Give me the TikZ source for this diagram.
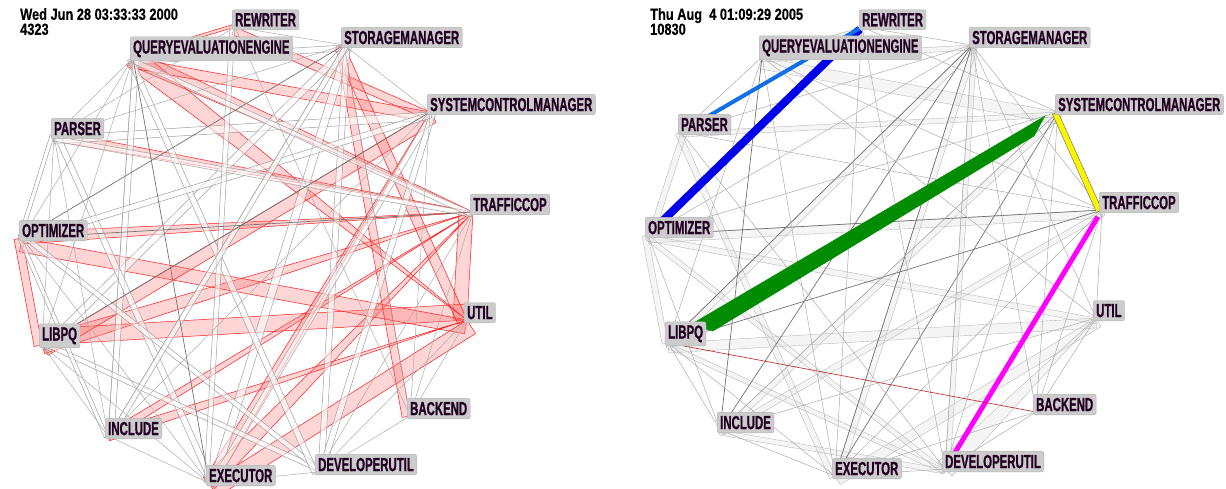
\documentclass[tikz,border=0pt]{standalone}
\usepackage{fontspec}
\setmainfont{Liberation Sans}
\newfontfamily\lblfont[FakeStretch=0.6,FakeBold=0.8]{Liberation Sans}
\newfontfamily\datefont[FakeStretch=0.8,FakeBold=0.4]{Liberation Sans}
\usetikzlibrary{calc}
\definecolor{lbltext}{RGB}{35,0,35}
\definecolor{deepblue}{RGB}{0,0,235}
\definecolor{skyblue}{RGB}{20,110,230}
\definecolor{leafgreen}{RGB}{0,140,0}
\definecolor{lemon}{RGB}{250,245,0}
\definecolor{pinkline}{RGB}{255,0,255}
\definecolor{darkred}{RGB}{190,30,30}
\tikzstyle{lbl}=[draw=gray!60,fill=gray!40,rounded corners=2pt,inner xsep=3pt,inner ysep=3.5pt,anchor=south west,xshift=-3pt,yshift=-3pt,text=lbltext,font={\lblfont\bfseries\fontsize{19pt}{19pt}\selectfont}]
\tikzstyle{datetxt}=[anchor=north west,inner sep=0pt,align=left,font={\datefont\bfseries\fontsize{16pt}{15pt}\selectfont}]
\tikzstyle{redband}=[draw=red!90,fill=red!55,fill opacity=0.3,line width=0.5pt]
\tikzstyle{wband}=[draw=gray!75,fill=white,fill opacity=0.55,line width=0.5pt]
\tikzstyle{gband}=[draw=gray!55,fill=gray!30,fill opacity=0.25,line width=0.4pt]
\tikzstyle{gline}=[draw=gray!65,line width=0.5pt]
\tikzstyle{dline}=[draw=black!55,line width=0.7pt]
\newcommand{\band}[4]{\filldraw[#1] (#2) -- (#3) -- ($(#3)!#4!90:(#2)$) -- ($(#2)!#4!-90:(#3)$) -- cycle;}
\newcommand{\fan}[4]{\filldraw[#1] (#2) -- ($(#3)!#4!90:(#2)$) -- ($(#3)!#4!-90:(#2)$) -- cycle;}

\begin{document}
\begin{tikzpicture}[x=1pt,y=-1pt]
\useasboundingbox (0,0) rectangle (1226,489);
\coordinate (arw) at (235,27);
\coordinate (aqe) at (133,58);
\coordinate (asm) at (344,45);
\coordinate (ascm) at (430,112);
\coordinate (atc) at (473,212);
\coordinate (aut) at (467,320);
\coordinate (abe) at (410,416);
\coordinate (adu) at (318,472);
\coordinate (aex) at (209,483);
\coordinate (ain) at (108,436);
\coordinate (alp) at (42,345);
\coordinate (aop) at (22,238);
\coordinate (apa) at (54,136);
\coordinate (brw) at (862,27);
\coordinate (bqe) at (762,57);
\coordinate (bsm) at (972,45);
\coordinate (bscm) at (1058,112);
\coordinate (btc) at (1102,210);
\coordinate (but) at (1096,318);
\coordinate (bbe) at (1036,412);
\coordinate (bdu) at (945,469);
\coordinate (bex) at (835,476);
\coordinate (bin) at (720,430);
\coordinate (blp) at (668,343);
\coordinate (bop) at (648,235);
\coordinate (bpa) at (681,132);

\fan{redband}{atc}{alp}{9pt}
\fan{redband}{atc}{aex}{8pt}
\fan{redband}{atc}{ain}{4pt}
\fan{redband}{atc}{aop}{6pt}
\fan{redband}{atc}{aqe}{8pt}
\fan{redband}{atc}{apa}{5pt}
\band{redband}{atc}{aut}{14pt}
\band{redband}{aut}{alp}{16pt}
\band{redband}{aop}{aut}{14pt}
\band{redband}{aex}{aut}{16pt}
\fan{redband}{aut}{ain}{5pt}
\fan{redband}{aut}{aqe}{10pt}
\band{redband}{alp}{ascm}{12pt}
\band{redband}{aqe}{ascm}{10pt}
\fan{redband}{ascm}{aex}{6pt}
\band{redband}{arw}{ascm}{8pt}
\band{redband}{asm}{aut}{10pt}
\band{redband}{asm}{abe}{8pt}
\band{redband}{aop}{alp}{8pt}
\band{redband}{arw}{aqe}{3pt}

\band{wband}{apa}{ascm}{8pt}
\band{wband}{aqe}{asm}{6pt}
\band{wband}{aex}{asm}{8pt}
\band{wband}{adu}{asm}{6pt}
\band{wband}{alp}{asm}{7pt}
\band{wband}{aex}{ascm}{6pt}
\band{wband}{adu}{ascm}{6pt}
\band{wband}{ain}{aqe}{6pt}
\band{wband}{aex}{apa}{6pt}
\band{wband}{adu}{alp}{5pt}
\band{wband}{adu}{aop}{5pt}
\band{wband}{aqe}{adu}{6pt}
\band{wband}{aop}{ascm}{6pt}
\band{wband}{apa}{atc}{5pt}
\band{wband}{arw}{aex}{5pt}
\band{wband}{aop}{ain}{4pt}
\band{wband}{apa}{aop}{4pt}
\band{wband}{ain}{asm}{5pt}
\band{wband}{aqe}{atc}{5pt}

\draw[dline] (aop) -- (atc);
\draw[dline] (ascm) -- (alp);
\draw[dline] (asm) -- (aop);
\draw[dline] (aqe) -- (aex);
\draw[gline] (apa) -- (aqe);
\draw[gline] (apa) -- (alp);
\draw[gline] (apa) -- (ain);
\draw[gline] (aqe) -- (alp);
\draw[gline] (aqe) -- (aop);
\draw[gline] (aqe) -- (ain);
\draw[gline] (asm) -- (ain);
\draw[gline] (asm) -- (apa);
\draw[gline] (asm) -- (ascm);
\draw[gline] (ascm) -- (abe);
\draw[gline] (ascm) -- (ain);
\draw[gline] (atc) -- (adu);
\draw[gline] (atc) -- (abe);
\draw[gline] (aut) -- (abe);
\draw[gline] (aut) -- (adu);
\draw[gline] (abe) -- (adu);
\draw[gline] (aex) -- (adu);
\draw[gline] (ain) -- (aex);
\draw[gline] (alp) -- (aex);
\draw[gline] (alp) -- (ain);
\draw[gline] (aop) -- (aex);
\draw[gline] (arw) -- (asm);
\draw[gline] (arw) -- (abe);
\draw[gline] (arw) -- (apa);
\draw[gline] (asm) -- (abe);

\band{gband}{bqe}{bscm}{12pt}
\band{gband}{blp}{but}{10pt}
\band{gband}{bop}{btc}{8pt}
\band{gband}{bex}{but}{10pt}
\band{gband}{bin}{bscm}{6pt}
\band{gband}{bpa}{bscm}{5pt}
\band{gband}{blp}{bsm}{6pt}
\band{gband}{bex}{bsm}{6pt}
\band{gband}{bdu}{bsm}{5pt}
\band{gband}{bin}{btc}{6pt}
\fan{gband}{but}{bdu}{10pt}
\band{gband}{blp}{bdu}{5pt}
\band{gband}{bpa}{bex}{6pt}
\band{gband}{bop}{bdu}{5pt}
\band{gband}{bop}{but}{6pt}
\band{gband}{bop}{bpa}{6pt}
\band{gband}{bop}{blp}{6pt}
\band{gband}{bqe}{bsm}{5pt}
\band{gband}{bin}{bdu}{5pt}

\draw[dline] (bsm) -- (bin);
\draw[dline] (bsm) -- (blp);
\draw[dline] (btc) -- (blp);
\draw[dline] (btc) -- (bop);
\draw[dline] (bscm) -- (bex);
\draw[dline] (bsm) -- (bex);
\draw[dline] (bqe) -- (bin);
\draw[gline] (bsm) -- (bdu);
\draw[gline] (bsm) -- (bop);
\draw[gline] (bsm) -- (bpa);
\draw[gline] (bsm) -- (but);
\draw[gline] (bsm) -- (bbe);
\draw[gline] (bsm) -- (btc);
\draw[gline] (bsm) -- (brw);
\draw[gline] (bscm) -- (bin);
\draw[gline] (bscm) -- (bop);
\draw[gline] (bscm) -- (bdu);
\draw[gline] (bscm) -- (bbe);
\draw[gline] (btc) -- (bex);
\draw[gline] (btc) -- (bpa);
\draw[gline] (btc) -- (bqe);
\draw[gline] (btc) -- (but);
\draw[gline] (btc) -- (bbe);
\draw[gline] (but) -- (bbe);
\draw[gline] (but) -- (bin);
\draw[gline] (but) -- (bqe);
\draw[gline] (bbe) -- (bdu);
\draw[gline] (bbe) -- (bex);
\draw[gline] (bdu) -- (bex);
\draw[gline] (bdu) -- (bpa);
\draw[gline] (bex) -- (bin);
\draw[gline] (bex) -- (blp);
\draw[gline] (bex) -- (bqe);
\draw[gline] (bin) -- (blp);
\draw[gline] (bin) -- (bop);
\draw[gline] (bpa) -- (bqe);
\draw[gline] (bqe) -- (brw);
\draw[gline] (brw) -- (bdu);
\draw[gline] (brw) -- (bex);
\draw[gline] (brw) -- (bscm);
\draw[gline] (bqe) -- (blp);

\draw[deepblue,line width=8pt,shorten <=14pt,shorten >=3pt] (bop) -- (brw);
\draw[skyblue,line width=4pt,shorten <=12pt,shorten >=3pt] (bpa) -- (brw);
\filldraw[draw=leafgreen,fill=leafgreen] ($(blp)+(22,-18)$) -- ($(bscm)+(-13,4)$) -- ($(bscm)+(-24,24)$) -- ($(blp)+(45,-12)$) -- cycle;
\band{draw=black!60,fill=lemon,line width=0.4pt}{bscm}{btc}{6pt}
\draw[pinkline,line width=5pt,shorten <=8pt] (btc) -- (bdu);
\draw[darkred,line width=0.6pt] (blp) -- (bbe);

\node[datetxt] (adate) at (20,8) {Wed Jun 28 03:33:33 2000\\4323};
\node[datetxt] (bdate) at (650,8) {Thu Aug\ \ 4 01:09:29 2005\\10830};

\node[lbl] (arw-l) at (arw) {REWRITER};
\node[lbl] (aqe-l) at (aqe) {QUERYEVALUATIONENGINE};
\node[lbl] (asm-l) at (asm) {STORAGEMANAGER};
\node[lbl] (ascm-l) at (ascm) {SYSTEMCONTROLMANAGER};
\node[lbl] (atc-l) at (atc) {TRAFFICCOP};
\node[lbl] (aut-l) at (aut) {UTIL};
\node[lbl] (abe-l) at (abe) {BACKEND};
\node[lbl] (adu-l) at (adu) {DEVELOPERUTIL};
\node[lbl] (aex-l) at (aex) {EXECUTOR};
\node[lbl] (ain-l) at (ain) {INCLUDE};
\node[lbl] (alp-l) at (alp) {LIBPQ};
\node[lbl] (aop-l) at (aop) {OPTIMIZER};
\node[lbl] (apa-l) at (apa) {PARSER};
\node[lbl] (brw-l) at (brw) {REWRITER};
\node[lbl] (bqe-l) at (bqe) {QUERYEVALUATIONENGINE};
\node[lbl] (bsm-l) at (bsm) {STORAGEMANAGER};
\node[lbl] (bscm-l) at (bscm) {SYSTEMCONTROLMANAGER};
\node[lbl] (btc-l) at (btc) {TRAFFICCOP};
\node[lbl] (but-l) at (but) {UTIL};
\node[lbl] (bbe-l) at (bbe) {BACKEND};
\node[lbl] (bdu-l) at (bdu) {DEVELOPERUTIL};
\node[lbl] (bex-l) at (bex) {EXECUTOR};
\node[lbl] (bin-l) at (bin) {INCLUDE};
\node[lbl] (blp-l) at (blp) {LIBPQ};
\node[lbl] (bop-l) at (bop) {OPTIMIZER};
\node[lbl] (bpa-l) at (bpa) {PARSER};
\end{tikzpicture}
\end{document}
